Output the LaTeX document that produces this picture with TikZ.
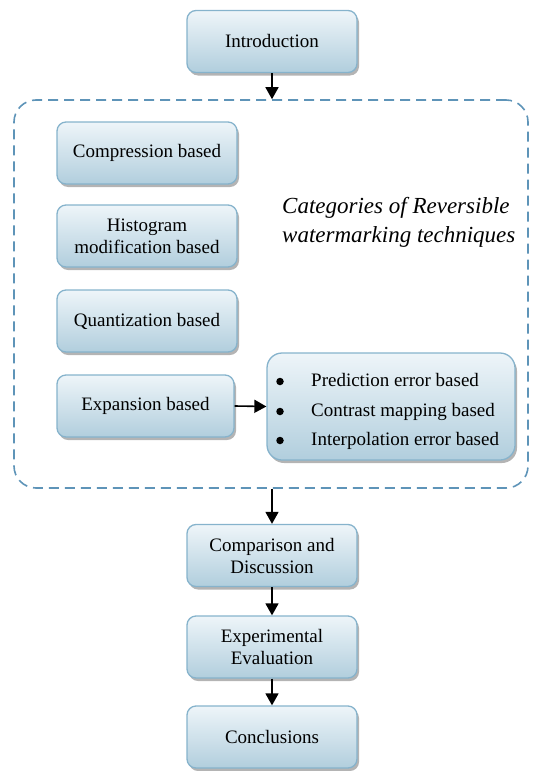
\documentclass[tikz,border=0pt]{standalone}
\usepackage{fontspec}
\setmainfont{Liberation Serif}
\usetikzlibrary{shadows,arrows.meta}
\definecolor{boxedge}{HTML}{86B3CC}
\definecolor{boxtop}{HTML}{EEF5F9}
\definecolor{boxbot}{HTML}{B1CEDD}
\definecolor{groupline}{HTML}{5E94B8}
\begin{document}
\begin{tikzpicture}[x=1pt,y=-1pt,
  stagebox/.style={draw=boxedge, line width=1.3pt, rounded corners=9pt,
    top color=boxtop, bottom color=boxbot, align=center,
    font=\fontsize{19}{22}\selectfont, inner sep=0pt,
    minimum width=170pt, minimum height=62pt,
    drop shadow={shadow xshift=2pt, shadow yshift=-3pt, opacity=0.45, fill=black!65}},
  groupbox/.style={draw=groupline, line width=1.6pt, dash pattern=on 10pt off 6pt,
    rounded corners=22pt, inner sep=0pt},
  flow/.style={-{Triangle[length=12pt,width=13pt]}, line width=1.6pt},
  itemtext/.style={anchor=base west, inner sep=0pt, font=\fontsize{19}{22}\selectfont},
  itembullet/.style={circle, fill=black, inner sep=0pt, minimum size=7.5pt}]
\useasboundingbox (0,0) rectangle (536,771);

% grouping frame for the categories
\node[groupbox, minimum width=514pt, minimum height=388pt] (group) at (271,294) {};

% main flow
\node[stagebox] (intro) at (272,41.5) {Introduction};

\node[stagebox, minimum width=180pt] (comp) at (147,153) {Compression based};
\node[stagebox, minimum width=180pt] (hist) at (147,236) {Histogram\\modification based};
\node[stagebox, minimum width=180pt] (quant) at (147,321) {Quantization based};
\node[stagebox, minimum width=177pt] (expan) at (145.5,406) {Expansion based};

\node[stagebox, rounded corners=15pt, minimum width=248pt, minimum height=107pt] (sub) at (391,406.5) {};
\node[itembullet] (b1) at (280,381.5) {};
\node[itembullet] (b2) at (280,411.5) {};
\node[itembullet] (b3) at (280,440.5) {};
\node[itemtext] (t1) at (311,386) {Prediction error based};
\node[itemtext] (t2) at (311,416) {Contrast mapping based};
\node[itemtext] (t3) at (311,445) {Interpolation error based};

\node[anchor=west, align=left, inner sep=0pt, font=\fontsize{23}{29}\selectfont\itshape]
  (title) at (282,222) {Categories of Reversible\\watermarking techniques};

\node[stagebox] (cmpdisc) at (272,555.5) {Comparison and\\Discussion};
\node[stagebox] (expeval) at (272,647) {Experimental\\Evaluation};
\node[stagebox] (concl) at (272,737) {Conclusions};

% connectors
\draw[flow] (intro.south) -- (intro.south |- group.north);
\draw[flow] (expan.east) -- (sub.west);
\draw[flow] (group.south -| cmpdisc.north) -- (cmpdisc.north);
\draw[flow] (cmpdisc.south) -- (expeval.north);
\draw[flow] (expeval.south) -- (concl.north);
\end{tikzpicture}
\end{document}
